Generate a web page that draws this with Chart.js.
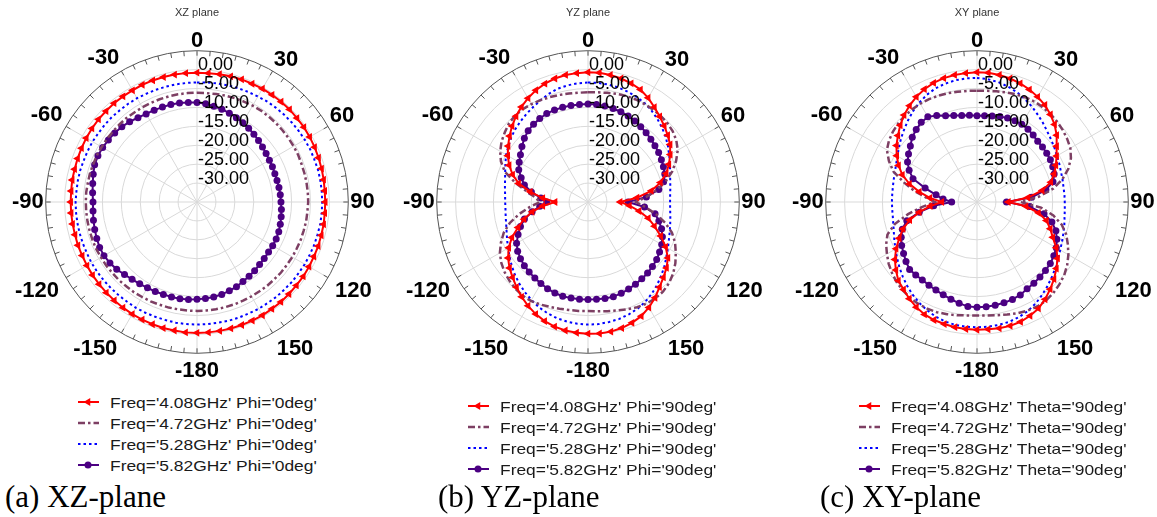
<!DOCTYPE html>
<html>
<head>
<meta charset="utf-8">
<script src="https://cdn.jsdelivr.net/npm/chart.js@4.4.0/dist/chart.umd.min.js"></script>
<style>
html,body{margin:0;padding:0;background:#fff;overflow:hidden;width:1157px;height:517px;}
#wrap{position:relative;width:1157px;height:517px;overflow:hidden;background:#fff;}
.panel{position:absolute;top:0;}
.legend{position:absolute;font-family:'Liberation Sans',Arial,sans-serif;font-size:15px;color:#1a1a1a;}
.row{position:absolute;left:0;height:21px;width:300px;white-space:nowrap;}
.row canvas{position:absolute;left:0;top:4px;}
.row span{position:absolute;left:33px;top:0;line-height:21px;display:inline-block;transform:scaleX(1.16);transform-origin:0 50%;}
.caption{position:absolute;font-family:'Liberation Serif','Times New Roman',serif;font-size:31px;line-height:30px;color:#000;white-space:nowrap;}
</style>
</head>
<body>
<div id="wrap"></div>
<script>
// ---------------- DATA ----------------
const angleLabels = ['0','5','10','15','20','25','30','35','40','45','50','55','60','65','70','75','80','85','90','95','100','105','110','115','120','125','130','135','140','145','150','155','160','165','170','175','-180','-175','-170','-165','-160','-155','-150','-145','-140','-135','-130','-125','-120','-115','-110','-105','-100','-95','-90','-85','-80','-75','-70','-65','-60','-55','-50','-45','-40','-35','-30','-25','-20','-15','-10','-5'];

const radialTicks = { min: -35, max: 5, step: 5, labelMin: -30, labelMax: 0 };

const panelTitles = ['XZ plane', 'YZ plane', 'XY plane'];
const panelCaptions = ['(a) XZ-plane', '(b) YZ-plane', '(c) XY-plane'];

const legendXZ = ["Freq='4.08GHz' Phi='0deg'", "Freq='4.72GHz' Phi='0deg'", "Freq='5.28GHz' Phi='0deg'", "Freq='5.82GHz' Phi='0deg'"];
const legendYZ = ["Freq='4.08GHz' Phi='90deg'", "Freq='4.72GHz' Phi='90deg'", "Freq='5.28GHz' Phi='90deg'", "Freq='5.82GHz' Phi='90deg'"];
const legendXY = ["Freq='4.08GHz' Theta='90deg'", "Freq='4.72GHz' Theta='90deg'", "Freq='5.28GHz' Theta='90deg'", "Freq='5.82GHz' Theta='90deg'"];

// XZ plane (dB)
const xzF408 = [
-0.8,-0.8,-0.7,-0.6,-0.5,-0.5,-0.4,-0.4,-0.4,-0.4,-0.5,-0.5,
-0.6,-0.7,-0.8,-0.9,-1.0,-1.1,-1.1,-1.1,-1.0,-1.0,-0.9,-0.9,
-0.8,-0.7,-0.7,-0.6,-0.5,-0.5,-0.4,-0.4,-0.4,-0.4,-0.4,-0.4,
-0.4,-0.4,-0.5,-0.5,-0.6,-0.7,-0.8,-0.9,-1.0,-1.1,-1.2,-1.3,
-1.4,-1.5,-1.5,-1.6,-1.6,-1.6,-1.6,-1.6,-1.5,-1.5,-1.4,-1.3,
-1.2,-1.1,-1.0,-1.0,-0.9,-0.9,-0.9,-0.8,-0.8,-0.8,-0.8,-0.8];
const xzF472 = [
-6.1,-6.1,-6.0,-5.9,-5.8,-5.7,-5.6,-5.5,-5.5,-5.5,-5.5,-5.5,
-5.5,-5.5,-5.6,-5.6,-5.6,-5.6,-5.6,-5.7,-5.7,-5.8,-5.8,-5.9,
-5.9,-6.0,-6.0,-6.1,-6.1,-6.2,-6.2,-6.2,-6.2,-6.2,-6.2,-6.2,
-6.2,-6.2,-6.2,-6.1,-6.1,-6.0,-6.0,-5.9,-5.9,-5.8,-5.8,-5.7,
-5.7,-5.6,-5.6,-5.6,-5.6,-5.6,-5.6,-5.6,-5.7,-5.7,-5.8,-5.8,
-5.9,-5.9,-6.0,-6.0,-6.0,-6.1,-6.1,-6.1,-6.1,-6.1,-6.1,-6.1];
const xzF528 = [
-3.4,-3.3,-3.2,-3.1,-3.0,-2.9,-2.8,-2.6,-2.5,-2.4,-2.3,-2.2,
-2.1,-2.0,-2.0,-1.9,-1.9,-1.9,-1.9,-1.9,-1.9,-2.0,-2.0,-2.1,
-2.1,-2.2,-2.2,-2.3,-2.3,-2.4,-2.4,-2.5,-2.5,-2.5,-2.6,-2.6,
-2.6,-2.6,-2.6,-2.7,-2.7,-2.7,-2.7,-2.8,-2.8,-2.8,-2.8,-2.8,
-2.8,-2.9,-2.9,-2.9,-2.9,-2.9,-2.9,-3.0,-3.0,-3.0,-3.1,-3.1,
-3.1,-3.2,-3.2,-3.2,-3.3,-3.3,-3.3,-3.4,-3.4,-3.4,-3.4,-3.4];
const xzF582 = [
-8.7,-8.9,-9.3,-9.6,-10.0,-10.4,-10.8,-11.2,-11.6,-12.0,-12.4,-12.7,
-12.9,-13.0,-13.1,-13.1,-13.0,-12.9,-12.8,-12.6,-12.4,-12.2,-12.0,-11.9,
-11.9,-11.9,-11.8,-11.6,-11.3,-11.0,-10.7,-10.3,-10.0,-9.7,-9.5,-9.4,
-9.3,-9.1,-9.0,-9.0,-9.0,-8.9,-8.8,-8.6,-8.3,-7.9,-7.3,-6.9,
-6.6,-6.6,-6.8,-7.0,-7.2,-7.4,-7.5,-7.3,-7.0,-6.6,-6.2,-6.1,
-6.2,-6.4,-6.6,-6.9,-7.3,-7.8,-8.1,-8.2,-8.3,-8.3,-8.4,-8.6];

// YZ plane (dB)
const yzF408 = [
-0.7,-0.7,-0.9,-1.2,-1.6,-2.2,-3.2,-4.4,-5.5,-6.5,-7.5,-8.5,
-9.9,-11.4,-13.0,-15.2,-18.0,-22.0,-26.5,-24.0,-21.3,-18.5,-16.3,-13.8,
-11.3,-9.2,-7.9,-6.8,-5.6,-4.1,-2.8,-1.7,-1.0,-0.5,-0.2,-0.1,
-0.2,-0.3,-0.5,-0.9,-1.5,-2.3,-3.3,-4.4,-5.6,-6.8,-7.9,-9.2,
-10.8,-12.8,-15.3,-17.5,-20.0,-23.0,-26.3,-23.0,-19.5,-16.0,-13.8,-12.0,
-10.5,-9.2,-7.9,-6.6,-5.4,-4.3,-3.3,-2.4,-1.7,-1.2,-0.9,-0.8];
const yzF472 = [
-6.0,-5.9,-5.7,-5.4,-5.2,-5.1,-5.1,-5.1,-5.2,-5.4,-5.8,-6.5,
-7.6,-9.3,-11.3,-13.7,-16.5,-19.5,-22.3,-19.8,-16.8,-13.9,-11.4,-9.6,
-8.2,-6.8,-5.6,-4.7,-4.1,-3.9,-4.0,-4.3,-4.8,-5.3,-5.7,-6.0,
-6.2,-6.1,-6.0,-5.8,-5.5,-5.1,-4.8,-4.8,-5.1,-5.6,-6.2,-7.0,
-8.1,-9.6,-11.3,-13.6,-16.5,-19.5,-22.3,-21.0,-18.5,-15.0,-11.6,-9.6,
-8.2,-7.1,-6.3,-5.5,-5.1,-5.0,-5.1,-5.3,-5.5,-5.7,-5.9,-6.0];
const yzF528 = [
-3.4,-3.4,-3.5,-3.7,-4.0,-4.4,-4.9,-5.6,-6.4,-7.3,-8.2,-9.2,
-10.2,-11.1,-11.9,-12.5,-12.9,-13.2,-13.3,-13.2,-12.9,-12.5,-12.0,-11.4,
-10.6,-9.7,-8.6,-7.6,-6.5,-5.5,-4.6,-3.9,-3.4,-3.0,-2.8,-2.6,
-2.6,-2.7,-2.9,-3.2,-3.7,-4.3,-5.1,-5.9,-6.8,-7.7,-8.7,-9.7,
-10.6,-11.4,-12.1,-12.6,-12.9,-13.1,-13.1,-13.0,-12.7,-12.3,-11.7,-10.9,
-10.0,-9.3,-8.5,-7.8,-7.2,-6.6,-6.0,-5.3,-4.6,-4.0,-3.7,-3.5];
const yzF582 = [
-9.1,-9.1,-9.2,-9.4,-9.6,-9.9,-10.3,-10.7,-11.1,-11.5,-11.9,-12.2,
-12.6,-13.0,-13.4,-14.3,-16.0,-19.5,-24.4,-20.0,-17.0,-15.6,-14.3,-13.3,
-12.5,-11.9,-11.3,-10.9,-10.5,-10.2,-9.9,-9.6,-9.3,-9.1,-9.1,-9.2,
-9.2,-9.2,-9.2,-9.2,-9.4,-9.7,-10.1,-10.5,-10.8,-11.2,-11.7,-12.3,
-13.2,-14.6,-16.0,-17.6,-20.0,-22.2,-24.1,-22.5,-19.8,-17.6,-16.2,-14.8,
-14.0,-13.2,-12.2,-11.2,-10.4,-9.9,-9.5,-9.2,-9.1,-9.1,-9.1,-9.1];

// XY plane (dB)
const xyF408 = [
-0.7,-0.7,-0.9,-1.2,-1.6,-2.2,-2.9,-3.7,-4.8,-6.0,-7.5,-9.3,
-10.7,-12.0,-13.3,-14.8,-17.5,-21.5,-26.7,-22.0,-18.5,-16.0,-14.4,-12.9,
-10.8,-9.0,-7.6,-6.2,-4.9,-3.6,-2.5,-1.8,-1.3,-1.1,-1.1,-1.2,
-1.2,-1.3,-1.4,-1.6,-1.8,-2.2,-2.9,-3.8,-4.8,-5.6,-7.0,-8.5,
-10.3,-12.3,-14.2,-16.6,-19.5,-22.6,-25.7,-22.5,-19.5,-16.5,-14.0,-12.1,
-10.5,-9.0,-7.7,-6.3,-5.0,-3.9,-2.9,-2.1,-1.5,-1.1,-0.9,-0.8];
const xyF472 = [
-5.6,-5.5,-5.3,-5.0,-4.7,-4.5,-4.4,-4.5,-4.7,-5.0,-5.4,-5.9,
-6.5,-7.6,-9.3,-11.6,-14.5,-18.5,-23.5,-18.0,-14.5,-11.8,-9.9,-8.5,
-7.1,-5.9,-4.9,-4.2,-3.6,-3.2,-3.1,-3.3,-3.7,-4.2,-4.6,-4.9,
-5.0,-4.9,-4.6,-4.3,-4.0,-3.9,-3.9,-4.1,-4.5,-5.0,-5.7,-6.5,
-7.5,-8.5,-9.8,-12.5,-16.5,-20.5,-23.9,-21.5,-18.2,-15.0,-11.5,-9.3,
-7.5,-6.6,-6.0,-5.6,-5.3,-5.1,-5.0,-5.0,-5.1,-5.2,-5.4,-5.5];
const xyF528 = [
-2.2,-2.4,-2.8,-3.4,-4.1,-5.0,-5.9,-6.9,-7.8,-8.7,-9.4,-10.0,
-10.6,-11.0,-11.4,-11.6,-11.8,-11.8,-11.8,-11.7,-11.5,-11.1,-10.7,-10.2,
-9.6,-8.8,-7.9,-7.0,-6.0,-5.0,-4.0,-3.2,-2.6,-2.2,-2.0,-1.9,
-1.9,-1.9,-2.0,-2.3,-2.8,-3.5,-4.3,-5.2,-6.2,-7.2,-8.2,-9.2,
-10.1,-10.9,-11.6,-12.1,-12.4,-12.5,-12.5,-12.5,-12.4,-12.2,-11.9,-11.4,
-10.7,-9.8,-8.8,-7.8,-6.7,-5.6,-4.6,-3.7,-3.0,-2.6,-2.3,-2.2];
const xyF582 = [
-12.2,-12.1,-11.9,-11.6,-11.4,-11.3,-11.3,-11.5,-11.9,-12.3,-12.4,-12.5,
-12.6,-12.9,-13.3,-14.2,-16.5,-20.5,-27.2,-21.0,-17.0,-14.5,-12.8,-11.7,
-10.8,-10.2,-9.7,-9.4,-9.1,-8.8,-8.5,-7.9,-7.6,-7.4,-7.3,-7.2,
-7.2,-7.3,-7.8,-8.4,-8.9,-9.3,-9.6,-9.8,-9.8,-9.8,-10.5,-11.3,
-12.0,-12.9,-14.0,-15.8,-19.5,-23.5,-28.3,-26.0,-24.0,-20.8,-17.0,-15.2,
-13.8,-12.9,-12.0,-10.8,-10.0,-9.3,-9.0,-9.8,-10.7,-11.3,-11.8,-12.0];

// ---------------- STYLES ----------------
const seriesStyles = [
  { color: '#ff0000', width: 2,   dash: [],            pointStyle: 'triangle', radius: 4.5, rotation: -90 },
  { color: '#7d3f63', width: 2.5, dash: [7, 3, 2.5, 3], pointStyle: false,     radius: 0,   rotation: 0 },
  { color: '#0000ff', width: 2,   dash: [2.5, 3],       pointStyle: false,     radius: 0,   rotation: 0 },
  { color: '#4b0082', width: 2,   dash: [],            pointStyle: 'circle',   radius: 3.5, rotation: 0 }
];

const panels = [
  { cx: 197, title: panelTitles[0], caption: panelCaptions[0], names: legendXZ, series: [xzF408, xzF472, xzF528, xzF582],
    legendX: 77, legendY: 402, captionX: 5 },
  { cx: 588, title: panelTitles[1], caption: panelCaptions[1], names: legendYZ, series: [yzF408, yzF472, yzF528, yzF582],
    legendX: 467, legendY: 406, captionX: 438 },
  { cx: 977, title: panelTitles[2], caption: panelCaptions[2], names: legendXY, series: [xyF408, xyF472, xyF528, xyF582],
    legendX: 858, legendY: 406, captionX: 820 }
];

const CW = 430, CH = 383;
const wrap = document.getElementById('wrap');

const polarDecor = {
  id: 'polarDecor',
  beforeDatasetsDraw(chart) {
    const s = chart.scales.r, ctx = chart.ctx;
    const R = s.getDistanceFromCenterForValue(s.max);
    ctx.save();
    ctx.strokeStyle = '#555';
    ctx.lineWidth = 1;
    for (let i = 0; i < chart.data.labels.length; i++) {
      const p1 = s.getPointPosition(i, R);
      const p2 = s.getPointPosition(i, R - 5);
      ctx.beginPath(); ctx.moveTo(p1.x, p1.y); ctx.lineTo(p2.x, p2.y); ctx.stroke();
    }
    ctx.restore();
  },
  afterDatasetsDraw(chart) {
    const s = chart.scales.r, ctx = chart.ctx;
    ctx.save();
    ctx.font = '18px "Liberation Sans", Arial, sans-serif';
    ctx.fillStyle = '#000';
    ctx.textAlign = 'left';
    ctx.textBaseline = 'alphabetic';
    s.ticks.forEach(t => {
      if (t.value >= radialTicks.labelMin && t.value <= radialTicks.labelMax) {
        const d = s.getDistanceFromCenterForValue(t.value);
        ctx.fillText(t.label, s.xCenter + 1, s.yCenter - d + 0.5);
      }
    });
    ctx.restore();
  }
};

function drawSample(cv, st) {
  const ctx = cv.getContext('2d');
  ctx.strokeStyle = st.color;
  ctx.fillStyle = st.color;
  ctx.lineWidth = st.width;
  ctx.setLineDash(st.dash);
  ctx.beginPath(); ctx.moveTo(1, 6); ctx.lineTo(22, 6); ctx.stroke();
  ctx.setLineDash([]);
  if (st.pointStyle) {
    const H = Chart.helpers;
    if (H && H.drawPoint) {
      H.drawPoint(ctx, { pointStyle: st.pointStyle, radius: st.radius, rotation: st.rotation, borderWidth: 0 }, 11, 6);
    }
  }
}

panels.forEach((p, pi) => {
  const holder = document.createElement('div');
  holder.className = 'panel';
  holder.style.left = (p.cx - CW / 2) + 'px';
  holder.style.width = CW + 'px';
  holder.style.height = CH + 'px';
  const cv = document.createElement('canvas');
  cv.width = CW; cv.height = CH;
  cv.style.width = CW + 'px'; cv.style.height = CH + 'px';
  holder.appendChild(cv);
  wrap.appendChild(holder);

  const datasets = p.series.map((vals, k) => {
    const st = seriesStyles[k];
    return {
      label: p.names[k],
      data: vals,
      borderColor: st.color,
      backgroundColor: st.color,
      borderWidth: st.width,
      borderDash: st.dash,
      fill: false,
      tension: 0,
      pointStyle: st.pointStyle || 'circle',
      pointRadius: st.radius,
      pointRotation: st.rotation,
      pointBackgroundColor: st.color,
      pointBorderColor: st.color,
      pointBorderWidth: 0,
      pointHoverRadius: st.radius
    };
  });

  new Chart(cv, {
    type: 'radar',
    data: { labels: angleLabels, datasets },
    options: {
      responsive: false,
      animation: false,
      events: [],
      layout: { padding: 0 },
      plugins: {
        legend: { display: false },
        tooltip: { enabled: false },
        title: {
          display: true, text: p.title, color: '#333',
          font: { family: '"Liberation Sans", Arial, sans-serif', size: 11, weight: 'normal' },
          padding: { top: 6, bottom: 8 }
        }
      },
      scales: {
        r: {
          min: radialTicks.min, max: radialTicks.max,
          ticks: { stepSize: radialTicks.step, display: false, callback: v => Number(v).toFixed(2) },
          grid: {
            circular: true,
            color: c => (c.tick && c.tick.value === radialTicks.max) ? '#555' : '#d9d9d9',
            lineWidth: 1
          },
          angleLines: {
            display: true,
            color: '#d9d9d9',
            lineWidth: c => (c.index % 6 === 0 ? 1 : 0)
          },
          pointLabels: {
            display: true,
            color: '#000',
            font: { family: '"Liberation Sans", Arial, sans-serif', size: 22, weight: 'bold', lineHeight: 0.85 },
            padding: c => {
              const i = c.index;
              if (i === 0) return 0;
              if (i === 18 || i === 54) return 2;
              if (i > 18 && i < 54) return 8;
              if (i > 54) return 4;
              return 2;
            },
            callback: lbl => (Number(lbl) % 30 === 0 ? lbl : '')
          }
        }
      }
    },
    plugins: [polarDecor]
  });

  // legend
  const lg = document.createElement('div');
  lg.className = 'legend';
  lg.style.left = p.legendX + 'px';
  lg.style.top = (p.legendY - 10.5) + 'px';
  p.names.forEach((name, k) => {
    const row = document.createElement('div');
    row.className = 'row';
    row.style.top = (k * 21) + 'px';
    const sc = document.createElement('canvas');
    sc.width = 24; sc.height = 12;
    drawSample(sc, seriesStyles[k]);
    const sp = document.createElement('span');
    sp.textContent = name;
    row.appendChild(sc); row.appendChild(sp);
    lg.appendChild(row);
  });
  wrap.appendChild(lg);

  const cap = document.createElement('div');
  cap.className = 'caption';
  cap.style.left = p.captionX + 'px';
  cap.style.top = '482px';
  cap.textContent = p.caption;
  wrap.appendChild(cap);
});
</script>
</body>
</html>
